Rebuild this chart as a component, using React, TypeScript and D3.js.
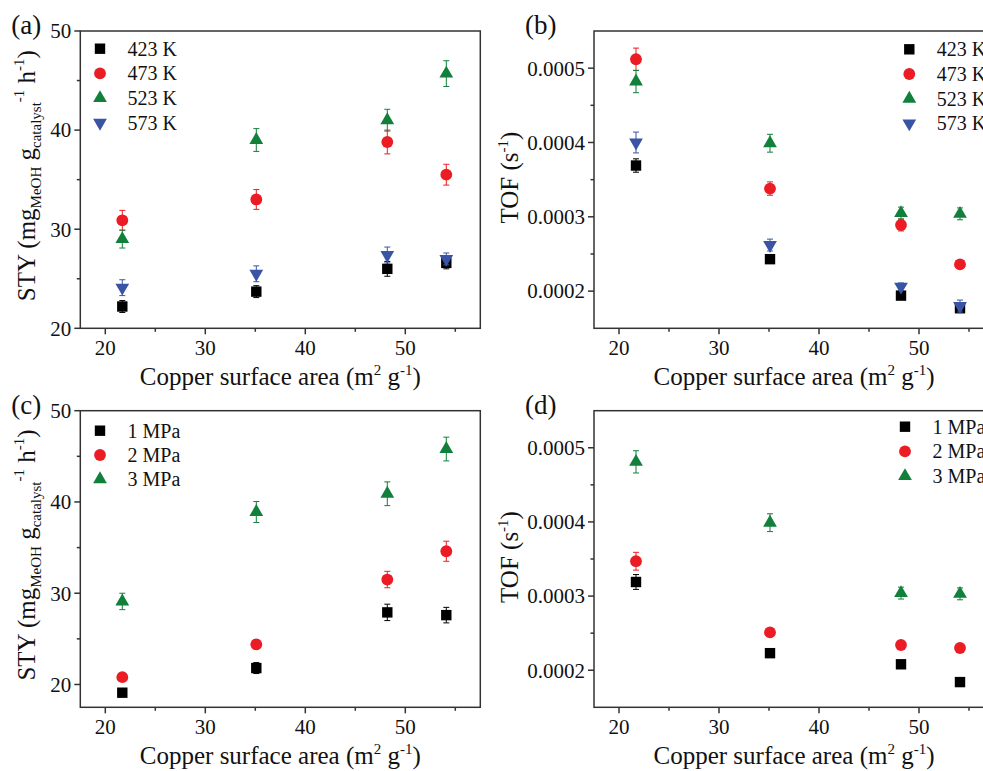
import * as React from "react";
import * as d3 from "d3";

// copper surface area (m2 g-1), same four catalysts in every panel
const surfaceArea = [21.7, 35.1, 48.2, 54.1];

const tempLabels = ["423 K", "473 K", "523 K", "573 K"];
const pressureLabels = ["1 MPa", "2 MPa", "3 MPa"];

// (a) STY vs temperature
const sty423 = [22.2, 23.7, 26.0, 26.6];
const sty423Err = [0.6, 0.6, 0.75, 0.6];
const sty473 = [30.9, 33.0, 38.8, 35.5];
const sty473Err = [1.0, 1.0, 1.2, 1.05];
const sty523 = [29.0, 39.0, 41.0, 45.7];
const sty523Err = [0.9, 1.15, 1.1, 1.3];
const sty573 = [24.1, 25.5, 27.4, 27.0];
const sty573Err = [0.8, 0.8, 0.8, 0.6];

// (b) TOF vs temperature
const tof423 = [0.000369, 0.000243, 0.000194, 0.000177];
const tof423Err = [0.000009, 0.000005, 0.000005, 0.000005];
const tof473 = [0.000512, 0.000338, 0.000289, 0.000236];
const tof473Err = [0.000015, 0.000009, 0.000008, 0.000005];
const tof523 = [0.000482, 0.000399, 0.000305, 0.000304];
const tof523Err = [0.000015, 0.000012, 0.000008, 0.000008];
const tof573 = [0.0004, 0.000262, 0.000206, 0.00018];
const tof573Err = [0.000014, 0.000008, 0.000005, 0.000008];

// (c) STY vs pressure
const sty1MPa = [19.1, 21.8, 27.9, 27.6];
const sty1MPaErr = [0.4, 0.6, 0.9, 0.85];
const sty2MPa = [20.8, 24.4, 31.5, 34.6];
const sty2MPaErr = [0.4, 0.5, 0.9, 1.1];
const sty3MPa = [29.1, 38.9, 40.9, 45.8];
const sty3MPaErr = [0.9, 1.15, 1.3, 1.3];

// (d) TOF vs pressure
const tof1MPa = [0.000319, 0.000223, 0.000208, 0.000184];
const tof1MPaErr = [0.00001, 0.000003, 0.000003, 0.000003];
const tof2MPa = [0.000347, 0.000251, 0.000234, 0.00023];
const tof2MPaErr = [0.000012, 0.000004, 0.000004, 0.000004];
const tof3MPa = [0.000481, 0.000399, 0.000304, 0.000303];
const tof3MPaErr = [0.000015, 0.000012, 0.000008, 0.000008];

const xMajor = [20, 30, 40, 50];
const xMinor = [25, 35, 45, 55];
const styMajor = [20, 30, 40, 50];
const styMinor = [25, 35, 45];
const tofMajor = [0.0002, 0.0003, 0.0004, 0.0005];
const tofMinor = [0.00025, 0.00035, 0.00045];

const colors = ["#000000", "#ec1c24", "#11803b", "#3a54a5"];
const shapes = ["square", "circle", "up", "down"];

const FONT = "'Liberation Serif', 'Times New Roman', serif";
const AXIS = "#333";

const mkSeries = (labels, vals, errs) =>
  labels.map((l, i) => ({ label: l, values: vals[i], errors: errs[i], color: colors[i], shape: shapes[i] }));

const Marker = ({ shape, x, y, color }) => {
  if (shape === "square") return <rect x={x - 5.2} y={y - 5.2} width={10.4} height={10.4} fill={color} />;
  if (shape === "circle") return <circle cx={x} cy={y} r={5.9} fill={color} />;
  let p = d3.symbol().type(d3.symbolTriangle).size(82)();
  return <path d={p} fill={color} transform={`translate(${x},${y})${shape === "down" ? " rotate(180)" : ""}`} />;
};

const Panel = (props) => {
  let { letter, x0, top, bottom, yDomain, yMajor, yMinor, fmt, series, legendX, legendY, legendStep, yTitle } = props;
  let x = d3.scaleLinear().domain([17.5, 57.5]).range([x0, x0 + 400]);
  let y = d3.scaleLinear().domain(yDomain).range([bottom, top]);
  let mid = (top + bottom) / 2;

  return (
    <g fontFamily={FONT} fill="#111">
      <text x={x0 - 69} y={top + 3} fontSize={27}>{letter}</text>
      {/* frame */}
      <rect x={x0} y={top} width={400} height={bottom - top} fill="none" stroke={AXIS} strokeWidth={1.5} />
      {xMajor.map(t => (
        <g key={"xm" + t}>
          <line x1={x(t)} x2={x(t)} y1={bottom} y2={bottom + 6} stroke={AXIS} strokeWidth={1.5} />
          <text x={x(t)} y={bottom + 27} fontSize={21} textAnchor="middle">{t}</text>
        </g>
      ))}
      {xMinor.map(t => (
        <line key={"xn" + t} x1={x(t)} x2={x(t)} y1={bottom} y2={bottom + 3.5} stroke={AXIS} strokeWidth={1.5} />
      ))}
      {yMajor.map(t => (
        <g key={"ym" + t}>
          <line x1={x0 - 6} x2={x0} y1={y(t)} y2={y(t)} stroke={AXIS} strokeWidth={1.5} />
          <text x={x0 - 9} y={y(t)} dy="0.35em" fontSize={21} textAnchor="end">{fmt(t)}</text>
        </g>
      ))}
      {yMinor.map(t => (
        <line key={"yn" + t} x1={x0 - 3.5} x2={x0} y1={y(t)} y2={y(t)} stroke={AXIS} strokeWidth={1.5} />
      ))}
      <text x={x0 + 200} y={bottom + 57} fontSize={25} textAnchor="middle">
        Copper surface area (m<tspan fontSize={15} dy={-10}>2</tspan><tspan dy={10}> g</tspan>
        <tspan fontSize={15} dy={-10}>-1</tspan><tspan dy={10}>)</tspan>
      </text>
      {yTitle === "sty" ? (
        <text transform={`translate(${x0 - 45},${mid - 4}) rotate(-90)`} fontSize={25} textAnchor="middle">
          STY (mg<tspan fontSize={15} dy={6}>MeOH</tspan><tspan dy={-6}> g</tspan>
          <tspan fontSize={15} dy={6}>catalyst</tspan><tspan fontSize={15} dy={-17}>-1</tspan>
          <tspan dy={11}> h</tspan><tspan fontSize={15} dy={-11}>-1</tspan><tspan dy={11}>)</tspan>
        </text>
      ) : (
        <text transform={`translate(${x0 - 76},${mid - 2}) rotate(-90)`} fontSize={25} textAnchor="middle">
          TOF (s<tspan fontSize={15} dy={-10}>-1</tspan><tspan dy={10}>)</tspan>
        </text>
      )}
      {series.map(s => (
        <g key={s.label}>
          {surfaceArea.map((a, i) => {
            let cx = x(a), hi = y(s.values[i] + s.errors[i]), lo = y(s.values[i] - s.errors[i]);
            return (
              <g key={i} stroke={s.color} strokeWidth={1}>
                <line x1={cx} x2={cx} y1={hi} y2={lo} />
                <line x1={cx - 3} x2={cx + 3} y1={hi} y2={hi} />
                <line x1={cx - 3} x2={cx + 3} y1={lo} y2={lo} />
              </g>
            );
          })}
          {surfaceArea.map((a, i) => (
            <Marker key={"m" + i} shape={s.shape} x={x(a)} y={y(s.values[i])} color={s.color} />
          ))}
        </g>
      ))}
      {series.map((s, i) => (
        <g key={"lg" + s.label}>
          <Marker shape={s.shape} x={legendX} y={legendY + i * legendStep} color={s.color} />
          <text x={legendX + 27.5} y={legendY + i * legendStep} dy="0.35em" fontSize={20}>{s.label}</text>
        </g>
      ))}
    </g>
  );
};

export default function App() {
  let tempSty = mkSeries(tempLabels, [sty423, sty473, sty523, sty573], [sty423Err, sty473Err, sty523Err, sty573Err]);
  let tempTof = mkSeries(tempLabels, [tof423, tof473, tof523, tof573], [tof423Err, tof473Err, tof523Err, tof573Err]);
  let presSty = mkSeries(pressureLabels, [sty1MPa, sty2MPa, sty3MPa], [sty1MPaErr, sty2MPaErr, sty3MPaErr]);
  let presTof = mkSeries(pressureLabels, [tof1MPa, tof2MPa, tof3MPa], [tof1MPaErr, tof2MPaErr, tof3MPaErr]);
  let f0 = d3.format("d");
  let f4 = d3.format(".4f");

  return (
    <svg width={983} height={771} style={{ position: "absolute", left: 0, top: 0, background: "#fff" }}>
      <Panel letter="(a)" x0={80.3} top={31} bottom={328.3} yDomain={[20, 50]} yMajor={styMajor} yMinor={styMinor}
        fmt={f0} series={tempSty} legendX={100} legendY={48.7} legendStep={24.7} yTitle="sty" />
      <Panel letter="(b)" x0={594} top={31} bottom={328.3} yDomain={[0.00015, 0.00055]} yMajor={tofMajor} yMinor={tofMinor}
        fmt={f4} series={tempTof} legendX={909.3} legendY={49.3} legendStep={24.7} yTitle="tof" />
      <Panel letter="(c)" x0={80.3} top={410.7} bottom={707.3} yDomain={[17.5, 50]} yMajor={styMajor} yMinor={styMinor}
        fmt={f0} series={presSty} legendX={100} legendY={430.7} legendStep={24.3} yTitle="sty" />
      <Panel letter="(d)" x0={594} top={410.7} bottom={707.3} yDomain={[0.00015, 0.00055]} yMajor={tofMajor} yMinor={tofMinor}
        fmt={f4} series={presTof} legendX={905} legendY={426.7} legendStep={24.7} yTitle="tof" />
    </svg>
  );
}
